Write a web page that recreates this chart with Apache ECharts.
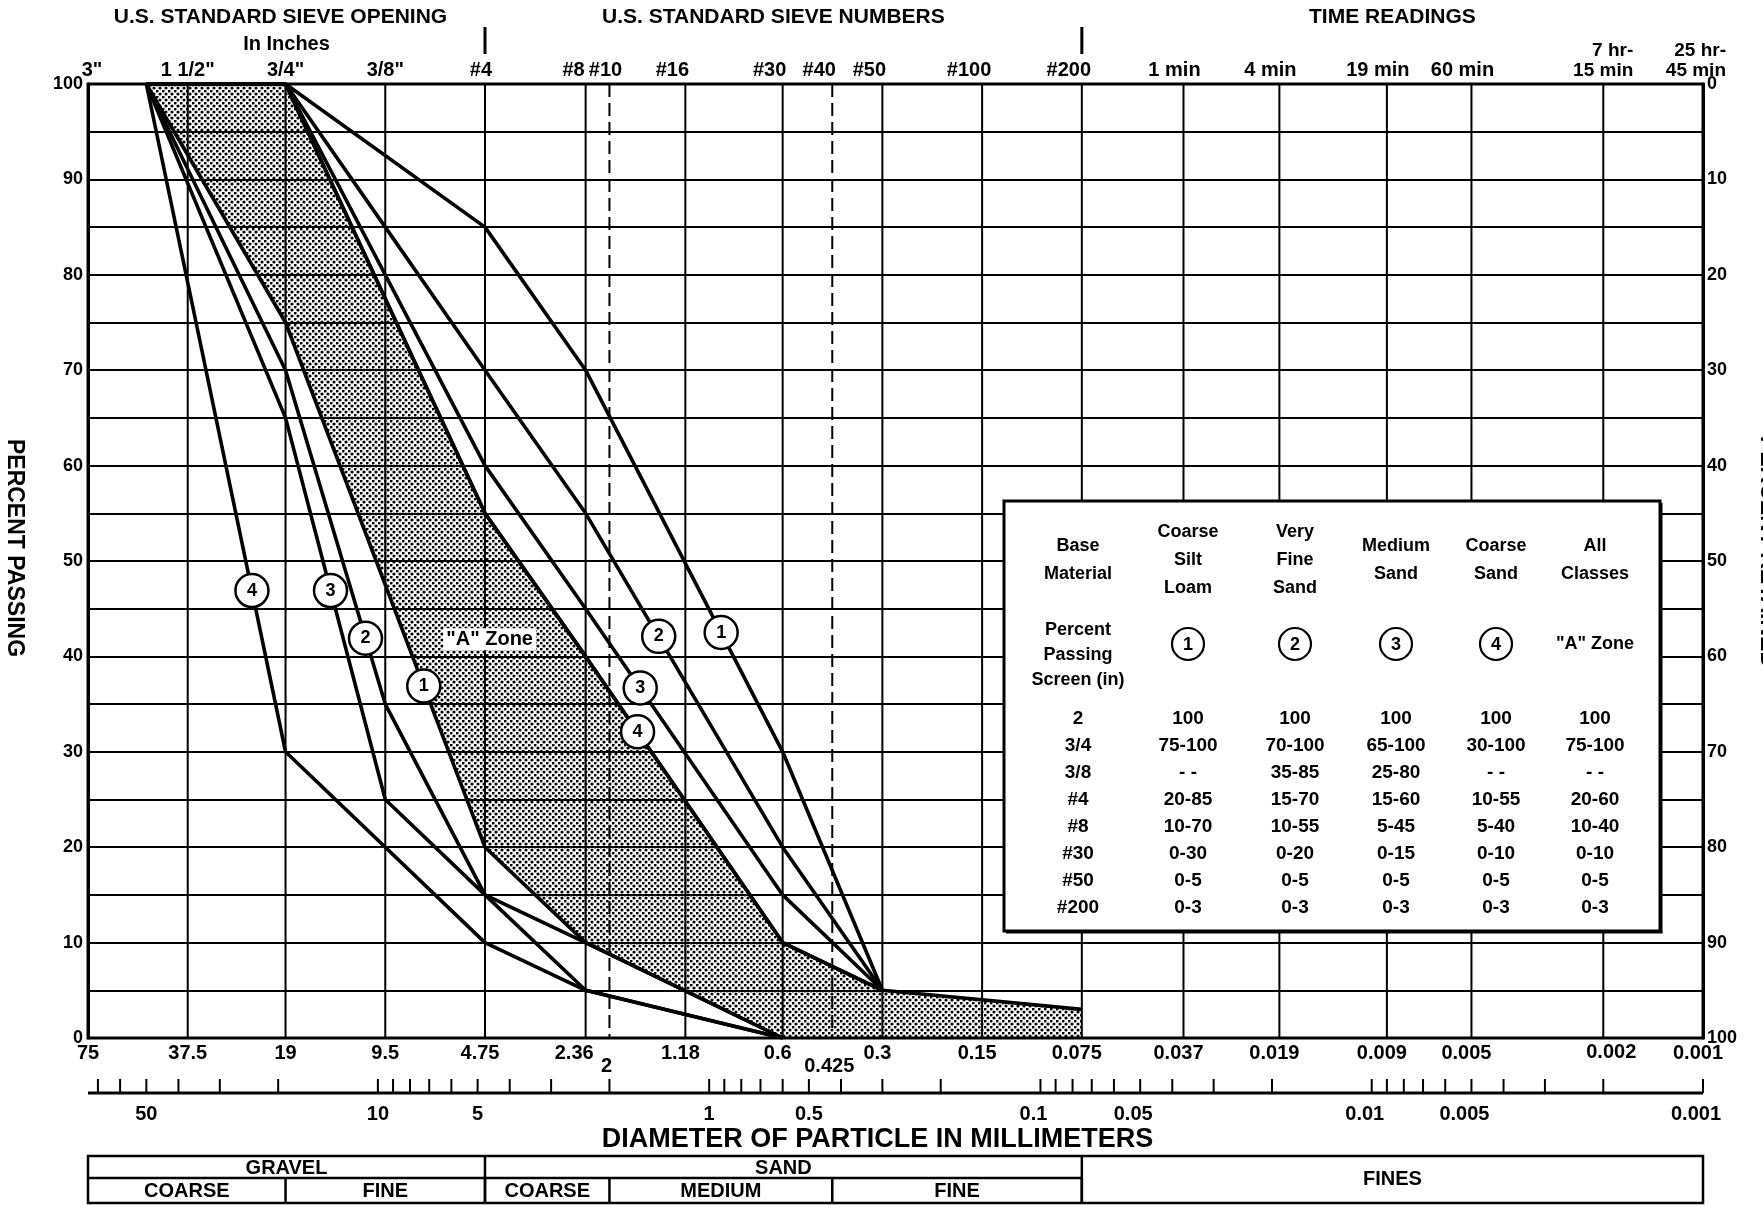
<!DOCTYPE html>
<html>
<head>
<meta charset="utf-8">
<title>Gradation chart</title>
<script src="https://cdn.jsdelivr.net/npm/echarts@6.0.0/dist/echarts.min.js"></script>
<style>
html,body{margin:0;padding:0;background:#fff;}
#chart{width:1763px;height:1205px;}
</style>
</head>
<body>
<div id="chart"></div>
<script>
// ---------- data ----------
const sieveMm    = [50, 19, 9.5, 4.75, 2.36, 0.6, 0.3, 0.075];
const zone1Upper = [100, 100, null, 85, 70, 30, 5, null];
const zone1Lower = [100, 75, null, 20, 10, 0, null, null];
const zone2Upper = [100, 100, 85, 70, 55, 20, 5, null];
const zone2Lower = [100, 70, 35, 15, 10, 0, null, null];
const zone3Upper = [100, 100, 80, 60, 45, 15, 5, null];
const zone3Lower = [100, 65, 25, 15, 5, 0, null, null];
const zone4Upper = [100, 100, null, 55, 40, 10, 5, null];
const zone4Lower = [100, 30, null, 10, 5, 0, null, null];
const aZoneUpper = [100, 100, null, 55, 40, 10, 5, 3];
const aZoneLower = [100, 75, null, 20, 10, 0, 0, 0];

const gridLineMm   = [75, 37.5, 19, 9.5, 4.75, 2.36, 1.18, 0.6, 0.3, 0.15, 0.075, 0.037, 0.019, 0.009, 0.005, 0.002, 0.001];
const dashedLineMm = [2, 0.425];
const topLabelMm   = [75, 37.5, 19, 9.5, 4.75, 2.36, 2, 1.18, 0.6, 0.425, 0.3, 0.15, 0.075, 0.037, 0.019, 0.009, 0.005, 0.002, 0.001];
const topLabelText = ['3"', '1 1/2"', '3/4"', '3/8"', '#4', '#8', '#10', '#16', '#30', '#40', '#50', '#100', '#200', '1 min', '4 min', '19 min', '60 min', '7 hr-\n15 min', '25 hr-\n45 min'];
const bottomLabelMm   = [75, 37.5, 19, 9.5, 4.75, 2.36, 1.18, 0.6, 0.3, 0.15, 0.075, 0.037, 0.019, 0.009, 0.005, 0.002, 0.001];
const bottomLabelText = ['75', '37.5', '19', '9.5', '4.75', '2.36', '1.18', '0.6', '0.3', '0.15', '0.075', '0.037', '0.019', '0.009', '0.005', '0.002', '0.001'];
const bottomLowerMm   = [2, 0.425];
const bottomLowerText = ['2', '0.425'];
const rulerLabelMm    = [50, 10, 5, 1, 0.5, 0.1, 0.05, 0.01, 0.005, 0.001];
const rulerLabelText  = ['50', '10', '5', '1', '0.5', '0.1', '0.05', '0.01', '0.005', '0.001'];
const rulerDecades    = [0.001, 0.01, 0.1, 1, 10];
const rulerMultiples  = [1, 2, 3, 4, 5, 6, 7, 8, 9];
const headerSeparatorMm = [4.75, 0.075];

const classTopText = ['GRAVEL', 'SAND'];
const classTopFrom = [75, 4.75];
const classTopTo   = [4.75, 0.075];
const classSubText = ['COARSE', 'FINE', 'COARSE', 'MEDIUM', 'FINE'];
const classSubFrom = [75, 19, 4.75, 2, 0.425];
const classSubTo   = [19, 4.75, 2, 0.425, 0.075];
const finesText = 'FINES';

const circleLabelText = ['4', '3', '2', '1', '2', '1', '3', '4'];
const circleLabelMm   = [24.0, 13.9, 10.9, 7.27, 1.42, 0.92, 1.615, 1.645];
const circleLabelPct  = [46.9, 46.9, 41.9, 36.9, 42.1, 42.5, 36.7, 32.1];
const zoneLabelText = '"A" Zone';
const zoneLabelMm = 4.6;
const zoneLabelPct = 41.8;

const tableColHeads = [['Base', 'Material'], ['Coarse', 'Silt', 'Loam'], ['Very', 'Fine', 'Sand'], ['Medium', 'Sand'], ['Coarse', 'Sand'], ['All', 'Classes']];
const tableSubHead  = ['Percent', 'Passing', 'Screen (in)'];
const tableSymbols  = ['1', '2', '3', '4'];
const tableRowHeads = ['2', '3/4', '3/8', '#4', '#8', '#30', '#50', '#200'];
const tableCol1 = ['100', '75-100', '- -', '20-85', '10-70', '0-30', '0-5', '0-3'];
const tableCol2 = ['100', '70-100', '35-85', '15-70', '10-55', '0-20', '0-5', '0-3'];
const tableCol3 = ['100', '65-100', '25-80', '15-60', '5-45', '0-15', '0-5', '0-3'];
const tableCol4 = ['100', '30-100', '- -', '10-55', '5-40', '0-10', '0-5', '0-3'];
const tableCol5 = ['100', '75-100', '- -', '20-60', '10-40', '0-10', '0-5', '0-3'];

// ---------- helpers ----------
const FONT = '"Liberation Sans", Arial, Helvetica, sans-serif';
const f = (size, w) => (w || 'bold') + ' ' + size + 'px ' + FONT;

function toPairs(values) {
  const out = [];
  values.forEach((v, i) => { if (v !== null) out.push([sieveMm[i], v]); });
  return out;
}

const dotTile = document.createElement('canvas');
dotTile.width = 6; dotTile.height = 6;
const dctx = dotTile.getContext('2d');
dctx.fillStyle = '#000';
[[1, 1], [4, 4]].forEach(([cx, cy]) => { dctx.beginPath(); dctx.arc(cx, cy, 1.6, 0, Math.PI * 2); dctx.fill(); });

function renderShade(params, api) {
  const up = toPairs(aZoneUpper);
  const lo = toPairs(aZoneLower).reverse();
  const pts = up.concat(lo).map(p => api.coord(p));
  return { type: 'polygon', shape: { points: pts },
    style: { fill: { type: 'pattern', image: dotTile, repeat: 'repeat' }, stroke: null } };
}

function renderZoneLabel(params, api) {
  const p = api.coord([api.value(0), api.value(1)]);
  return { type: 'text', x: p[0], y: p[1],
    style: { text: zoneLabelText, font: f(20), fill: '#000', align: 'center', verticalAlign: 'middle',
      backgroundColor: '#fff', padding: [1, 3] } };
}

function renderFrame(params, api) {
  const X = d => api.coord([d, 50])[0];
  const Y = v => api.coord([1, v])[1];
  const yT = Y(100), yB = Y(0), xL = X(75), xR = X(0.001);
  const k = [];
  const ln = (x1, y1, x2, y2, w, dash) => k.push({ type: 'line', shape: { x1, y1, x2, y2 },
    style: { stroke: '#000', lineWidth: w, lineDash: dash || null } });
  const tx = (x, y, t, size, align, va) => k.push({ type: 'text', x, y,
    style: { text: t, fill: '#000', font: f(size), align: align || 'center', verticalAlign: va || 'middle', lineHeight: Math.round(size * 1.05) } });

  // grid verticals
  gridLineMm.forEach(d => ln(X(d), yT, X(d), yB, 2));
  dashedLineMm.forEach(d => ln(X(d), yT, X(d), yB, 2, [13, 6]));
  k.push({ type: 'rect', shape: { x: xL, y: yT, width: xR - xL, height: yB - yT },
    style: { fill: null, stroke: '#000', lineWidth: 3 } });

  // headers
  const xS = X(4.75), xH = X(0.075);
  headerSeparatorMm.forEach(d => ln(X(d), yT - 57, X(d), yT - 30, 3));
  tx((xL + xS) / 2 - 6, yT - 67, 'U.S. STANDARD SIEVE OPENING', 21);
  tx((xL + xS) / 2, yT - 40, 'In Inches', 20);
  tx((xS + xH) / 2 - 10, yT - 67, 'U.S. STANDARD SIEVE NUMBERS', 21);
  tx((xH + xR) / 2, yT - 67, 'TIME READINGS', 21);
  tx((xH + xR) / 2, yT - 90, 'HYDROMETER ANALYSIS', 21);

  // top labels
  topLabelMm.forEach((d, i) => {
    const t = topLabelText[i];
    if (t.indexOf('\n') >= 0) tx(X(d) + (d === 0.002 ? 30 : 23), yT - 3, t, 19, 'right', 'bottom');
    else if (t === '#8') tx(X(d) - 1, yT - 3, t, 20, 'right', 'bottom');
    else if (d >= 9) tx(X(d) + (d === 75 ? 4 : 0), yT - 3, t, 20, 'center', 'bottom');
    else if (d >= 2) tx(X(d) - 4, yT - 3, t, 20, 'center', 'bottom');
    else if (d >= 0.07) tx(X(d) - 13, yT - 3, t, 20, 'center', 'bottom');
    else tx(X(d) - 9, yT - 3, t, 20, 'center', 'bottom');
  });

  // bottom labels
  bottomLabelMm.forEach((d, i) => {
    const t = bottomLabelText[i];
    if (t === '2.36') tx(X(d) + 8, yB + 5, t, 20, 'right', 'top');
    else if (t === '0.002') tx(X(d) + 8, yB + 4, t, 20, 'center', 'top');
    else if (d >= 9) tx(X(d), yB + 5, t, 20, 'center', 'top');
    else tx(X(d) - 5, yB + 5, t, 20, 'center', 'top');
  });
  bottomLowerMm.forEach((d, i) => tx(X(d) - 3, yB + 18, bottomLowerText[i], 20, 'center', 'top'));

  // ruler
  const yR = yB + 55;
  ln(xL, yR, xR, yR, 3);
  rulerDecades.forEach(dec => rulerMultiples.forEach(m => {
    const v = dec * m;
    if (v >= 0.001 && v <= 75) ln(X(v), yR, X(v), yR - 14, 2);
  }));
  rulerLabelMm.forEach((d, i) => tx(X(d) - (d < 0.2 ? 7 : 0), yR + 11, rulerLabelText[i], 20, 'center', 'top'));

  tx((xL + xR) / 2 - 18, yB + 102, 'DIAMETER OF PARTICLE IN MILLIMETERS', 27);

  // soil classification table
  const cT = yB + 118, cM = yB + 140, cB = yB + 165;
  k.push({ type: 'rect', shape: { x: xL, y: cT, width: xR - xL, height: cB - cT },
    style: { fill: null, stroke: '#000', lineWidth: 2.5 } });
  ln(xL, cM, xH, cM, 2.5);
  classTopFrom.forEach((d, i) => {
    ln(X(classTopTo[i]), cT, X(classTopTo[i]), cB, 2.5);
    tx((X(d) + X(classTopTo[i])) / 2, (cT + cM) / 2 + 1, classTopText[i], 20);
  });
  classSubFrom.forEach((d, i) => {
    ln(X(classSubTo[i]), cM, X(classSubTo[i]), cB, 2.5);
    tx((X(d) + X(classSubTo[i])) / 2, (cM + cB) / 2 + 1, classSubText[i], 20);
  });
  tx((xH + xR) / 2, (cT + cB) / 2, finesText, 20);

  return { type: 'group', children: k };
}

// ---------- inset table (graphic) ----------
function buildTable() {
  const Z = 50;
  const els = [];
  const x0 = 1004, y0 = 501, w = 656, h = 430;
  els.push({ type: 'rect', z: Z, shape: { x: x0, y: y0, width: w, height: h },
    style: { fill: '#fff', stroke: '#000', lineWidth: 3 } });
  els.push({ type: 'line', z: Z, shape: { x1: x0 + w + 1.5, y1: y0 + 2, x2: x0 + w + 1.5, y2: y0 + h + 2 }, style: { stroke: '#000', lineWidth: 2 } });
  els.push({ type: 'line', z: Z, shape: { x1: x0 + 2, y1: y0 + h + 1.5, x2: x0 + w + 2.5, y2: y0 + h + 1.5 }, style: { stroke: '#000', lineWidth: 2 } });
  const colX = [1078, 1188, 1295, 1396, 1496, 1595];
  const t = (x, y, s, size) => els.push({ type: 'text', z: Z + 1, x, y,
    style: { text: s, font: f(size), fill: '#000', align: 'center', verticalAlign: 'middle' } });
  tableColHeads.forEach((lines, c) => {
    const start = lines.length === 3 ? 532 : 546;
    lines.forEach((s, j) => t(colX[c], start + j * 28, s, 18));
  });
  tableSubHead.forEach((s, j) => t(colX[0], 630 + j * 25, s, 18));
  tableSymbols.forEach((s, j) => {
    els.push({ type: 'circle', z: Z + 1, shape: { cx: colX[j + 1], cy: 644, r: 16 },
      style: { fill: '#fff', stroke: '#000', lineWidth: 2.2 } });
    t(colX[j + 1], 645, s, 18);
  });
  t(colX[5], 644, zoneLabelText, 18);
  const cols = [tableRowHeads, tableCol1, tableCol2, tableCol3, tableCol4, tableCol5];
  cols.forEach((col, c) => col.forEach((s, r) => t(colX[c], 719 + r * 26.9, s, 19)));
  return els;
}

// ---------- chart ----------
const chart = echarts.init(document.getElementById('chart'), null, { renderer: 'canvas' });
const curveList = [zone1Upper, zone1Lower, zone2Upper, zone2Lower, zone3Upper, zone3Lower, zone4Upper, zone4Lower, aZoneUpper];
const curveSeries = curveList.map((vals, i) => ({
  type: 'line', name: 'curve' + i, data: toPairs(vals), showSymbol: false, symbol: 'none',
  lineStyle: { color: '#000', width: 3.6 }, z: 4, silent: true, animation: false
}));

const option = {
  animation: false,
  backgroundColor: '#fff',
  grid: { left: 88, right: 60, top: 84, bottom: 167, containLabel: false },
  xAxis: {
    type: 'log', logBase: 10, min: 0.001, max: 75, inverse: true,
    axisLine: { show: false }, axisTick: { show: false }, axisLabel: { show: false },
    splitLine: { show: false }, minorSplitLine: { show: false }
  },
  yAxis: [
    {
      type: 'value', min: 0, max: 100, interval: 5, position: 'left',
      axisLine: { show: true, lineStyle: { color: '#000', width: 3 } },
      axisTick: { show: false },
      axisLabel: { color: '#000', fontFamily: FONT, fontWeight: 'bold', fontSize: 18, margin: 5,
        formatter: v => (v % 10 === 0 ? String(v) : '') },
      splitLine: { show: true, lineStyle: { color: '#000', width: 2 } }
    },
    {
      type: 'value', min: 0, max: 100, interval: 10, inverse: true, position: 'right',
      axisLine: { show: true, lineStyle: { color: '#000', width: 3 } },
      axisTick: { show: false },
      axisLabel: { color: '#000', fontFamily: FONT, fontWeight: 'bold', fontSize: 18, margin: 4 },
      splitLine: { show: false }
    }
  ],
  graphic: [
    { type: 'text', x: 14, y: 548, rotation: -Math.PI / 2, z: 50,
      style: { text: 'PERCENT PASSING', font: f(23), fill: '#000', align: 'center', verticalAlign: 'middle' } },
    { type: 'text', x: 1767, y: 552, rotation: -Math.PI / 2, z: 50,
      style: { text: 'PERCENT RETAINED', font: f(23), fill: '#000', align: 'center', verticalAlign: 'middle' } }
  ].concat(buildTable()),
  series: [
    { type: 'custom', name: 'aZoneShade', renderItem: renderShade, data: [[1, 50]], z: 1, silent: true, clip: false },
    { type: 'custom', name: 'frame', renderItem: renderFrame, data: [[1, 50]], z: 3, silent: true, clip: false }
  ].concat(curveSeries).concat([
    {
      type: 'scatter', name: 'circleLabels', z: 6, silent: true,
      data: circleLabelMm.map((d, i) => ({ value: [d, circleLabelPct[i]], name: circleLabelText[i] })),
      symbol: 'circle', symbolSize: 33,
      itemStyle: { color: '#fff', borderColor: '#000', borderWidth: 2.5, opacity: 1 },
      label: { show: true, position: 'inside', formatter: '{b}', color: '#000', fontFamily: FONT, fontWeight: 'bold', fontSize: 18 }
    },
    { type: 'custom', name: 'zoneLabel', renderItem: renderZoneLabel, data: [[zoneLabelMm, zoneLabelPct]], z: 6, silent: true, clip: false }
  ])
};
chart.setOption(option);
</script>
</body>
</html>
